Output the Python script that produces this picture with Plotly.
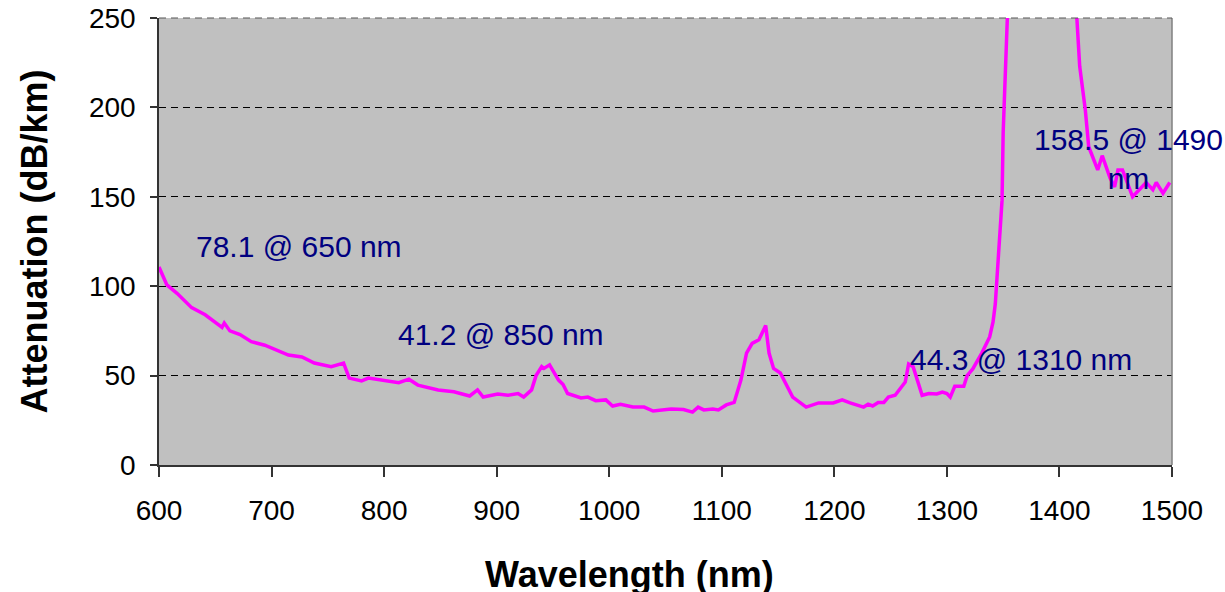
import plotly.graph_objects as go

wavelength_nm = [600, 607, 616, 623, 629, 641, 656, 658, 663, 672, 682, 694, 706, 715, 727, 738,
                 753, 764, 769, 780, 786, 800, 813, 822, 830, 848, 862, 876, 883, 888, 901, 910,
                 919, 924, 931, 935, 940, 942, 947, 955, 959, 963, 975, 981, 988, 997, 1003, 1010,
                 1021, 1031, 1039, 1055, 1066, 1074, 1079, 1084, 1092, 1097, 1104, 1111, 1117, 1122,
                 1127, 1133, 1139, 1142, 1146, 1152, 1163, 1175, 1186, 1199, 1207, 1214, 1226, 1230,
                 1234, 1239, 1244, 1248, 1254, 1263, 1266, 1270, 1278, 1284, 1291, 1296, 1300, 1303,
                 1307, 1315, 1318, 1323, 1331, 1338, 1341, 1343, 1345, 1347, 1349, 1350, 1352, 1354,
                 1385, 1415, 1418, 1423, 1426, 1434, 1438, 1445, 1449, 1452, 1456, 1465, 1477, 1483,
                 1486, 1492, 1498]
attenuation_db_km = [110.7, 100.7, 96, 92, 88, 84, 77, 79.4, 75, 73, 69, 67, 64, 61.5, 60.4, 57,
                     55, 57, 48.6, 47, 48.6, 47, 46, 48, 44.7, 42, 41, 38.6, 42, 38, 39.7, 39,
                     40, 38, 42, 50, 55, 54, 56, 47.5, 45, 40, 37.5, 38, 36, 36.4, 33, 34,
                     32.4, 32.4, 30.2, 31.3, 31, 29.6, 32.4, 30.8, 31.3, 30.8, 33.6, 35, 47.5, 62.6,
                     68, 70, 78, 62.6, 54, 51.5, 38, 32.4, 34.7, 34.7, 36.4, 34.7, 32.4, 34,
                     33, 35, 35, 38, 39, 46.4, 56.5, 55, 39, 40, 39.7, 40.8, 40, 38,
                     44, 44, 50, 53.7, 62.6, 71.6, 80, 90, 111, 130, 148, 186, 223, 255,
                     500, 255, 223, 198.5, 178, 165, 173, 160.5, 155.5, 165, 165, 150, 158, 154,
                     158, 152, 158]

note_texts = ["78.1 @ 650 nm", "41.2 @ 850 nm", "44.3 @ 1310 nm", "158.5 @ 1490<br>nm"]
note_x = [724, 904, 1366, 1461]
note_y = [122, 73, 59, 171]

x_ticks = [600, 700, 800, 900, 1000, 1100, 1200, 1300, 1400, 1500]
y_ticks = [0, 50, 100, 150, 200, 250]

FONT = "Arial, Liberation Sans, sans-serif"

fig = go.Figure()
fig.add_trace(go.Scatter(x=wavelength_nm, y=attenuation_db_km, mode="lines",
                         line=dict(color="#FF00FF", width=3.5), showlegend=False,
                         cliponaxis=True))

for t, x, y in zip(note_texts, note_x, note_y):
    fig.add_annotation(x=x, y=y, xref="x", yref="y", text=t, showarrow=False,
                       font=dict(family=FONT, size=30, color="#000080"),
                       xanchor="center", yanchor="middle", align="center")

# x axis title (sits left of the plot centre in the original)
fig.add_annotation(x=0.464, y=-0.244, xref="paper", yref="paper", text="Wavelength (nm)",
                   showarrow=False, xanchor="center", yanchor="middle",
                   font=dict(family=FONT, size=36, weight="bold", color="black"))

# right border and top dashed edge of plot area
fig.add_shape(type="line", xref="paper", yref="paper", x0=1, x1=1, y0=0, y1=1,
              line=dict(color="#808080", width=1.5))
fig.add_shape(type="line", xref="paper", yref="paper", x0=0, x1=1, y0=1, y1=1,
              line=dict(color="#555555", width=1, dash="7px,5px"))

fig.update_layout(
    width=1225, height=592,
    paper_bgcolor="white", plot_bgcolor="#C0C0C0",
    margin=dict(l=159, r=53, t=18, b=127, autoexpand=False),
    font=dict(family=FONT, color="black"),
    xaxis=dict(range=[600, 1500], tickvals=x_ticks, showgrid=False, zeroline=False,
               automargin=False, ticklabeloverflow="allow",
               showline=True, linecolor="#333333", linewidth=1.5,
               ticks="outside", ticklen=10, tickcolor="#333333", tickwidth=1.5,
               tickfont=dict(size=28, family=FONT, color="black"),
               ticklabelstandoff=10),
    yaxis=dict(range=[0, 250], tickvals=y_ticks, showgrid=True, gridcolor="#000000",
               gridwidth=1, griddash="7px,5px", zeroline=False,
               automargin=False, ticklabeloverflow="allow",
               showline=True, linecolor="#333333", linewidth=1.5,
               ticks="outside", ticklen=7, tickcolor="#333333", tickwidth=1.5,
               tickfont=dict(size=28, family=FONT, color="black"),
               ticklabelstandoff=9,
               title=dict(text="Attenuation (dB/km)", standoff=30,
                          font=dict(size=36, family=FONT, weight="bold", color="black"))),
)

# remove the default 8px body margin so the figure fills the window exactly
fig.write_html("out.html", config={"displayModeBar": False},
               post_script="document.body.style.margin='0';document.body.style.overflow='hidden';")
